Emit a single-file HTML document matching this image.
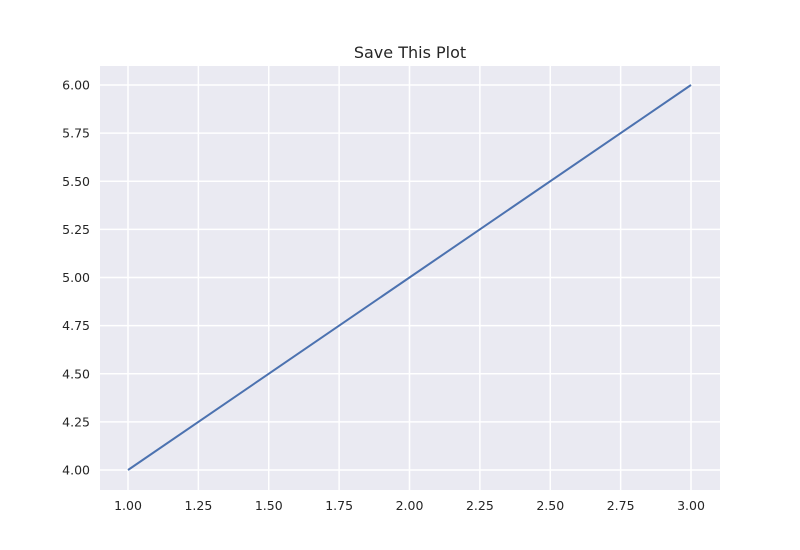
<!DOCTYPE html>
<html><head><meta charset="utf-8"><style>
body{margin:0;background:#fff;}
svg{display:block;font-family:"DejaVu Sans","Liberation Sans",sans-serif;}
</style></head><body>
<svg id="chart" width="800" height="550">
<rect x="0" y="0" width="800" height="550" fill="#fff"/>
<rect x="100" y="66" width="620" height="424" fill="#eaeaf2"/>
<g id="grid"></g>
<g id="ticks"></g>
<g id="series"></g>
<text x="410" y="58" text-anchor="middle" font-size="16" fill="#262626">Save This Plot</text>
</svg>
<script>
const xs = [1, 2, 3];
const ys = [4, 5, 6];
const xTicks = [1.0, 1.25, 1.5, 1.75, 2.0, 2.25, 2.5, 2.75, 3.0];
const yTicks = [4.0, 4.25, 4.5, 4.75, 5.0, 5.25, 5.5, 5.75, 6.0];
const NS = "http://www.w3.org/2000/svg";
const X = v => 128 + (v - 1) * 281.5;
const Y = v => 470 - (v - 4) * 192.5;
function mk(tag, attrs, parent){const e=document.createElementNS(NS,tag);for(const k in attrs)e.setAttribute(k,attrs[k]);parent.appendChild(e);return e;}
const grid=document.getElementById('grid'), ticks=document.getElementById('ticks'), series=document.getElementById('series');
xTicks.forEach(t=>{
  const l=mk('line',{x1:X(t),x2:X(t),y1:66,y2:490,stroke:'#fff','stroke-width':1.5},grid);
  
  
  const tx=mk('text',{x:X(t),y:510,'text-anchor':'middle','font-size':12.5,fill:'#262626'},ticks);
  tx.textContent=t.toFixed(2);
  
  
});
yTicks.forEach(t=>{
  const l=mk('line',{x1:100,x2:720,y1:Y(t),y2:Y(t),stroke:'#fff','stroke-width':1.5},grid);
  
  
  const tx=mk('text',{x:90,y:Y(t)+4.5,'text-anchor':'end','font-size':12.5,fill:'#262626'},ticks);
  tx.textContent=t.toFixed(2);
  
  
});
const p=mk('polyline',{points:xs.map((x,i)=>X(x)+','+Y(ys[i])).join(' '),fill:'none',stroke:'#4c72b0','stroke-width':2},series);


</script>
</body></html>
